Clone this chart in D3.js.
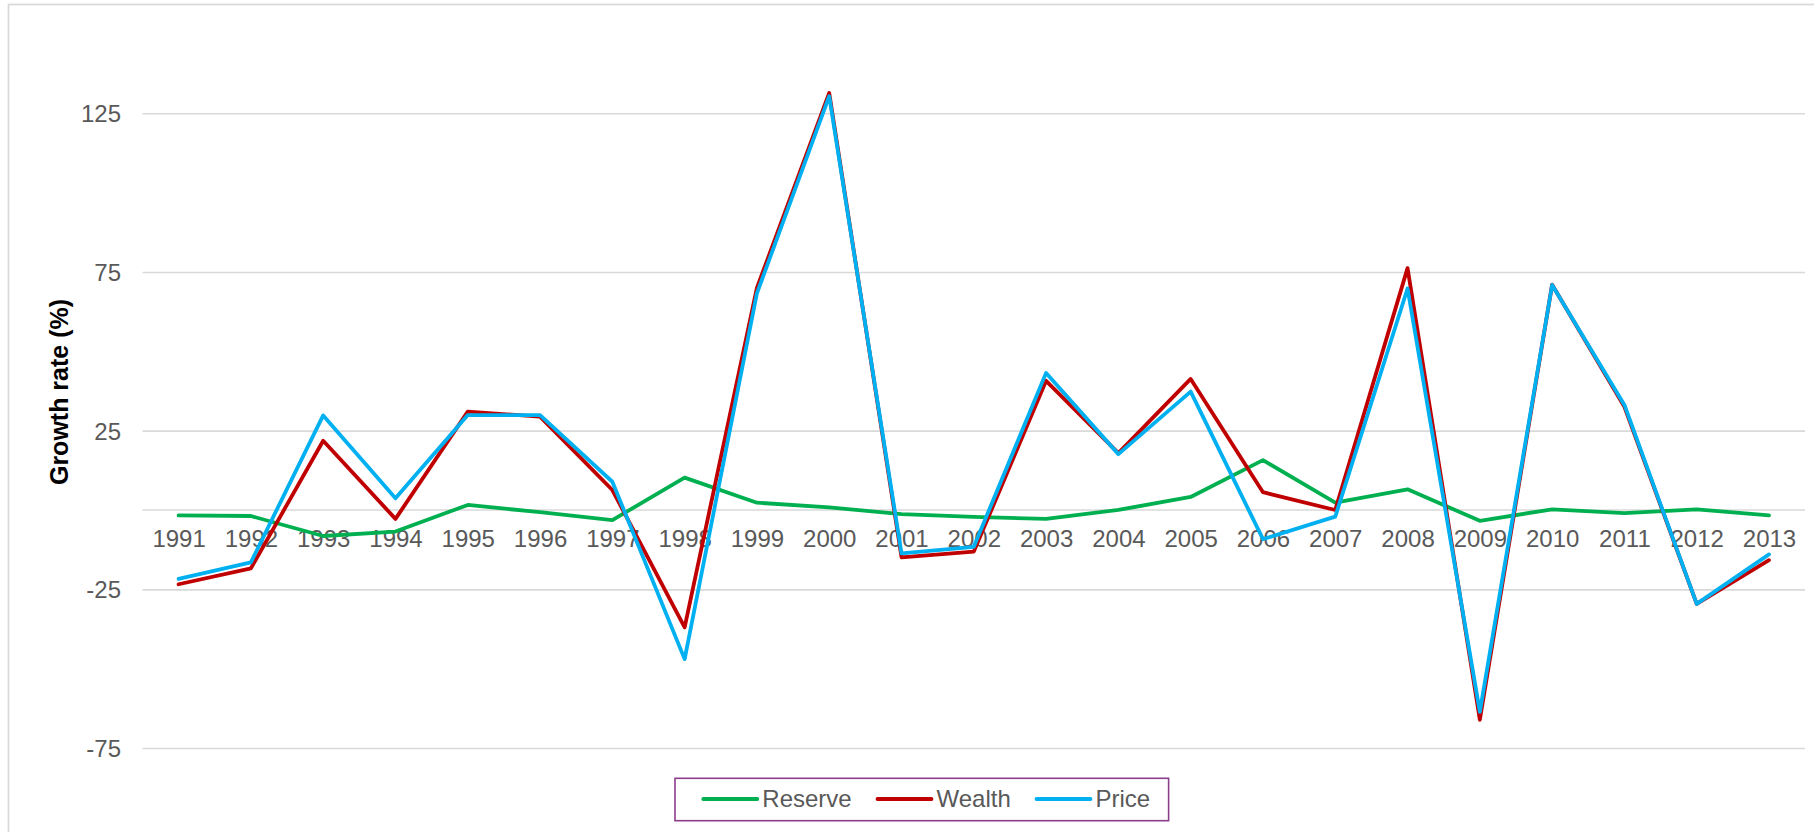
<!DOCTYPE html>
<html>
<head>
<meta charset="utf-8">
<script src="https://cdn.jsdelivr.net/npm/d3@7"></script>
<style>
  html, body { margin: 0; padding: 0; background: #fff; }
  svg { display: block; }
</style>
</head>
<body>
<svg id="chart" width="1814" height="832"></svg>
<script>
const years = ["1991","1992","1993","1994","1995","1996","1997","1998","1999","2000","2001","2002","2003","2004","2005","2006","2007","2008","2009","2010","2011","2012","2013"];
const reserve = [-1.7, -1.9, -8.2, -6.8, 1.6, -0.7, -3.2, 10.2, 2.3, 0.8, -1.3, -2.2, -2.8, 0.0, 4.1, 15.7, 2.3, 6.5, -3.4, 0.2, -1.0, 0.2, -1.7];
const wealth  = [-23.4, -18.4, 21.8, -2.8, 31.0, 29.4, 6.3, -37.0, 70.0, 131.4, -14.9, -13.1, 40.7, 17.9, 41.3, 5.6, 0.0, 76.2, -66.1, 71.0, 32.5, -29.6, -15.8];
const price   = [-21.7, -16.5, 29.8, 3.7, 29.9, 29.9, 8.9, -47.0, 68.3, 130.4, -13.7, -11.6, 43.2, 17.6, 37.3, -9.2, -2.1, 69.8, -63.6, 70.9, 33.1, -29.6, -14.0];
const yTicks = [-75, -25, 25, 75, 125];
const yTickLabels = ["-75", "-25", "25", "75", "125"];
const seriesNames = ["Reserve", "Wealth", "Price"];
const seriesColors = ["#00B050", "#C00000", "#00B0F0"];
const seriesValues = [reserve, wealth, price];

const svg = d3.select("#chart");

// outer chart border
svg.append("rect")
  .attr("x", 8.5).attr("y", 4.5)
  .attr("width", 1830).attr("height", 850)
  .attr("fill", "none").attr("stroke", "#d9d9d9").attr("stroke-width", 1.75);

const plotLeft = 142.5, plotRight = 1805;
const x = d3.scalePoint().domain(years).range([178.6, 1769]);
const y = d3.scaleLinear().domain([-75, 125]).range([748, 113.3]);

// gridlines + y labels via axis
const yAxis = d3.axisLeft(y).tickValues(yTicks).tickSize(0).tickPadding(0)
  .tickFormat((d, i) => yTickLabels[i]);
const gy = svg.append("g").attr("transform", `translate(${plotLeft},0)`).call(yAxis);
gy.select(".domain").remove();
gy.selectAll(".tick text")
  .attr("x", -21.5)
  .attr("dy", "0.35em")
  .attr("fill", "#595959")
  .style("font-family", "'Liberation Sans', Arial, sans-serif")
  .style("font-size", "24px");
gy.selectAll(".tick").append("line")
  .attr("x1", 0).attr("x2", plotRight - plotLeft)
  .attr("stroke", "#d9d9d9").attr("stroke-width", 1.6);

// category axis at zero
const xAxis = d3.axisBottom(x).tickSize(0).tickPadding(0);
const gx = svg.append("g").attr("transform", `translate(0,${y(0)})`).call(xAxis);
gx.select(".domain")
  .attr("d", `M${plotLeft},0H${plotRight}`)
  .attr("stroke", "#d9d9d9").attr("stroke-width", 1.6);
gx.selectAll(".tick text")
  .attr("y", 37).attr("dy", 0)
  .attr("fill", "#595959")
  .style("font-family", "'Liberation Sans', Arial, sans-serif")
  .style("font-size", "24px");

// y axis title
svg.append("text")
  .attr("transform", "translate(68,392) rotate(-90)")
  .attr("text-anchor", "middle")
  .attr("fill", "#000")
  .style("font-family", "'Liberation Sans', Arial, sans-serif")
  .style("font-weight", "bold")
  .style("font-size", "25px")
  .text("Growth rate (%)");

// lines
const line = d3.line().x((d, i) => x(years[i])).y(d => y(d));
seriesValues.forEach((vals, k) => {
  svg.append("path")
    .datum(vals)
    .attr("d", line)
    .attr("fill", "none")
    .attr("stroke", seriesColors[k])
    .attr("stroke-width", 3.8)
    .attr("stroke-linejoin", "round")
    .attr("stroke-linecap", "round");
});

// legend
const lg = svg.append("g");
lg.append("rect")
  .attr("x", 675).attr("y", 778.3)
  .attr("width", 493.6).attr("height", 42.4)
  .attr("fill", "#fff").attr("stroke", "#8c3d8c").attr("stroke-width", 1.6);
const legendX = [703.3, 877.5, 1036.5];
seriesNames.forEach((name, k) => {
  lg.append("line")
    .attr("x1", legendX[k]).attr("x2", legendX[k] + 54)
    .attr("y1", 799).attr("y2", 799)
    .attr("stroke", seriesColors[k]).attr("stroke-width", 3.8)
    .attr("stroke-linecap", "round");
  lg.append("text")
    .attr("x", legendX[k] + 59).attr("y", 807.3)
    .attr("fill", "#595959")
    .style("font-family", "'Liberation Sans', Arial, sans-serif")
    .style("font-size", "24px")
    .text(name);
});
</script>
</body>
</html>
